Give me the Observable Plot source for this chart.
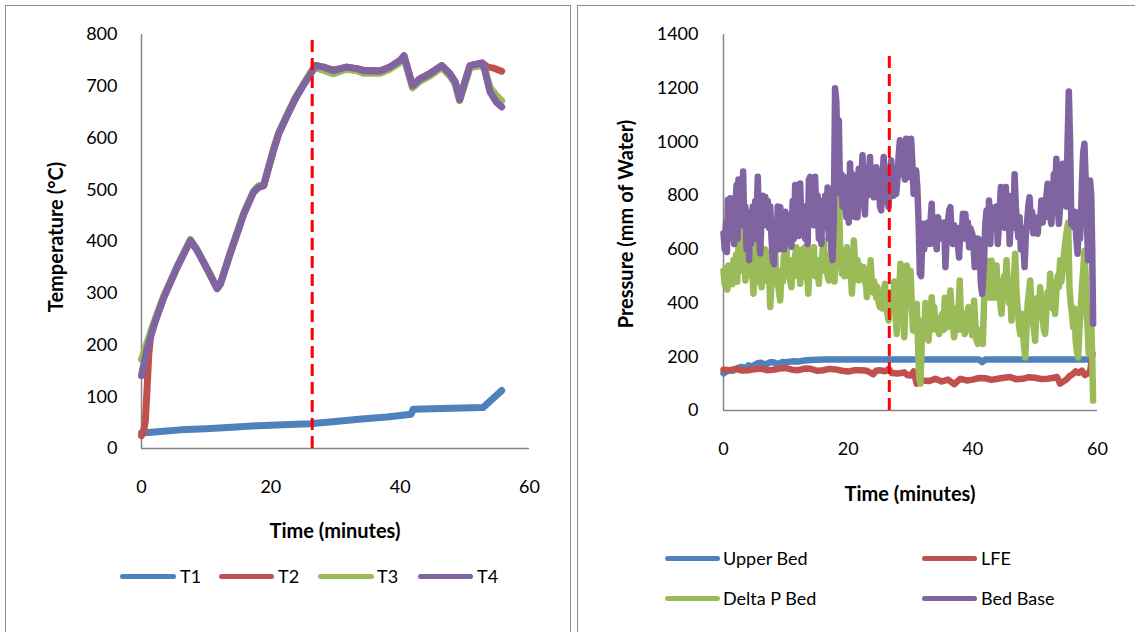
<!DOCTYPE html>
<html>
<head>
<meta charset="utf-8">
<script src="https://cdn.jsdelivr.net/npm/d3@7"></script>
<script src="https://cdn.jsdelivr.net/npm/@observablehq/plot@0.6"></script>
<style>
  html, body { margin: 0; padding: 0; background: #fff; }
  body { width: 1135px; height: 632px; position: relative; overflow: hidden; font-family: Lato, "Open Sans", sans-serif; color: #000; }
  .panel { position: absolute; border: 1.5px solid #8c8c8c; box-sizing: border-box; }
  .chart { position: absolute; top: 0; }
  .txt { position: absolute; font-size: 18px; line-height: 22px; white-space: nowrap; }
  .bold { font-weight: bold; font-size: 20px; }
  .sw { position: absolute; height: 5px; border-radius: 3px; }
</style>
</head>
<body>
<div class="panel" style="left:5px;top:5px;width:566px;height:640px;"></div>
<div class="panel" style="left:577px;top:5px;width:570px;height:640px;"></div>
<div id="left" class="chart" style="left:0px;"></div>
<div id="right" class="chart" style="left:570px;"></div>
<div id="labels"></div>
<script>
// ---------- Tick labels ----------
const timeTicks = [0, 20, 40, 60];
const tempTicks = [0, 100, 200, 300, 400, 500, 600, 700, 800];
const pressTicks = [0, 200, 400, 600, 800, 1000, 1200, 1400];

// ---------- Temperature chart (time in minutes, °C) ----------
const T1 = [[0,30],[3,33],[6,36],[10,38],[14,41],[18,44],[22,46],[26,48],[30,52],[34,57],[38,61],[41.7,66],[42,76],[45,77],[48,78],[52.8,79],[55.7,112]];
const T2 = [[0,25],[0.3,32],[0.6,54],[0.87,118],[1.13,183],[1.5,228],[2.16,247],[3.45,292],[5.5,350],[7.56,402],[8.6,383],[10.4,341],[11.7,309],[12.2,318],[13.7,376],[15.8,453],[17.3,495],[18.1,505],[18.9,508],[19.4,531],[20.4,576],[21.2,608],[22.5,643],[23.8,677],[25.0,703],[26.3,729],[26.9,740],[28.1,737],[29.7,731],[31.7,737],[33.3,734],[34.3,731],[36.9,730],[38.4,737],[40.0,750],[40.6,758],[41.9,702],[43.1,715],[44.6,725],[46.4,740],[47.7,724],[48.5,709],[49.2,676],[50.0,708],[50.8,740],[52.7,745],[53.5,737],[54.5,735],[55.7,729]];
const T3 = [[0,172],[0.87,205],[2.16,252],[3.45,295],[5.5,352],[7.56,404],[8.6,384],[10.4,342],[11.7,310],[12.2,319],[13.7,378],[15.8,455],[17.3,497],[18.1,508],[18.9,510],[19.4,533],[20.4,578],[21.2,610],[22.5,645],[23.8,678],[25.0,703],[26.3,728],[26.9,736],[28.1,731],[29.7,724],[31.7,733],[33.3,730],[34.3,725],[36.9,725],[38.4,733],[40.0,746],[40.6,754],[41.9,697],[43.1,710],[44.6,720],[46.4,736],[47.7,720],[48.5,704],[49.2,672],[50.0,704],[50.8,736],[52.7,740],[53.1,732],[53.9,698],[54.9,682],[55.7,672]];
const T4 = [[0,141],[0.87,193],[2.16,247],[3.45,292],[5.5,350],[7.56,402],[8.6,383],[10.4,341],[11.7,309],[12.2,318],[13.7,376],[15.8,453],[17.3,495],[18.1,505],[18.9,508],[19.4,531],[20.4,576],[21.2,608],[22.5,643],[23.8,676],[25.0,701],[26.3,727],[26.9,740],[28.1,737],[29.7,730],[31.7,737],[33.3,734],[34.3,730],[36.9,729],[38.4,737],[40.0,750],[40.6,759],[41.9,701],[43.1,714],[44.6,724],[46.4,740],[47.7,724],[48.5,708],[49.2,674],[50.0,708],[50.8,740],[52.7,745],[53.1,730],[53.9,689],[54.9,669],[55.7,660]];
const tempNames = ["T1", "T2", "T3", "T4"];
const tempMarker = [26.4];

// ---------- Pressure chart (time in minutes, mm of water) ----------
const upperBed = [[0,138],[0.5,145],[1,150],[1.5,148],[2,155],[2.5,160],[3,162],[3.5,158],[4,168],[4.5,164],[5,170],[5.5,176],[6,178],[6.5,172],[7,174],[7.5,180],[8,180],[8.5,174],[9,176],[9.5,181],[10,180],[11,183],[12,182],[13,186],[14,188],[16,190],[20,190],[25,190],[30,190],[35,190],[40,190],[41,190],[41.5,180],[42,190],[45,190],[50,190],[55,190],[58.8,190]];
const lfe = [[0,152],[1,150],[2,155],[3,149],[4,150],[5,154],[6,156],[7,150],[8,152],[9,156],[10,158],[11,152],[12,150],[13,156],[14,155],[15,148],[16,150],[17,155],[18,153],[19,148],[20,145],[21,150],[22,150],[23,148],[24,135],[24.5,148],[25,150],[26,146],[26.5,155],[27,140],[28,138],[29,142],[29.5,132],[30,130],[30.5,145],[31,100],[31.5,116],[32,112],[33,110],[34,118],[35,108],[36,115],[37,98],[38,118],[39,112],[40,115],[41,121],[42,120],[43,114],[44,118],[45,122],[46,125],[47,116],[48,118],[49,124],[50,122],[51,117],[52,118],[53,122],[53.5,125],[54,100],[55,115],[55.5,128],[56,135],[56.5,146],[57,140],[57.5,148],[58,132],[58.8,143],[59.2,211]];
const deltaPBed = [[0,520],[0.2,470],[0.4,530],[0.6,450],[0.8,540],[1.0,480],[1.2,520],[1.4,470],[1.6,560],[1.8,500],[2.0,580],[2.2,480],[2.4,620],[2.6,560],[2.7,695],[2.9,600],[3.1,520],[3.3,640],[3.5,484],[3.7,560],[3.9,500],[4.0,645],[4.2,560],[4.4,500],[4.6,540],[4.8,435],[5.0,520],[5.2,600],[5.4,480],[5.6,658],[5.8,540],[6.0,600],[6.1,459],[6.3,560],[6.5,500],[6.7,600],[6.9,584],[7.1,480],[7.3,520],[7.5,385],[7.7,470],[7.9,540],[8.1,500],[8.3,584],[8.5,470],[8.7,520],[8.9,440],[9.1,410],[9.3,520],[9.5,480],[9.7,580],[9.9,520],[10.1,608],[10.3,500],[10.5,540],[10.7,480],[10.9,459],[11.1,560],[11.3,500],[11.5,580],[11.7,608],[11.9,520],[12.1,560],[12.3,472],[12.5,540],[12.7,600],[12.9,520],[13.1,608],[13.3,500],[13.5,480],[13.6,435],[13.8,540],[14.0,600],[14.2,520],[14.4,560],[14.5,608],[14.7,500],[14.9,560],[15.1,520],[15.3,472],[15.5,560],[15.7,520],[15.9,600],[16.1,633],[16.3,520],[16.5,560],[16.7,500],[16.9,484],[17.1,580],[17.3,520],[17.4,670],[17.6,560],[17.8,480],[17.9,546],[18.1,640],[18.3,700],[18.5,807],[18.7,620],[18.8,560],[19.0,509],[19.2,560],[19.4,500],[19.6,560],[19.8,608],[20.0,540],[20.2,500],[20.4,520],[20.6,435],[20.8,520],[20.9,633],[21.1,560],[21.3,520],[21.5,560],[21.7,484],[21.9,540],[22.1,500],[22.3,520],[22.5,534],[22.7,480],[22.9,460],[23.0,422],[23.2,500],[23.4,460],[23.6,559],[23.8,480],[24.0,440],[24.2,480],[24.3,459],[24.5,420],[24.7,460],[24.9,400],[25.1,385],[25.3,420],[25.5,380],[25.7,440],[25.9,472],[26.1,400],[26.3,360],[26.5,335],[26.7,400],[26.9,440],[27.0,422],[27.2,380],[27.4,480],[27.6,360],[27.8,285],[28.0,380],[28.2,460],[28.4,546],[28.6,440],[28.8,380],[29.0,273],[29.2,400],[29.4,540],[29.6,480],[29.8,509],[30.0,520],[30.2,400],[30.4,298],[30.6,360],[30.8,310],[31.0,397],[31.2,250],[31.4,120],[31.6,100],[31.8,250],[32.0,335],[32.2,280],[32.4,400],[32.6,300],[32.9,260],[33.1,340],[33.3,300],[33.4,422],[33.6,340],[33.8,385],[34.0,320],[34.2,300],[34.4,340],[34.6,285],[34.8,340],[35.1,360],[35.3,300],[35.5,420],[35.7,340],[35.9,310],[36.1,360],[36.4,447],[36.6,380],[36.8,320],[37.0,273],[37.2,340],[37.4,380],[37.6,300],[37.9,484],[38.1,340],[38.3,300],[38.5,360],[38.7,285],[38.9,330],[39.1,360],[39.3,385],[39.5,300],[39.7,340],[39.9,280],[40.2,409],[40.4,320],[40.6,260],[40.8,248],[41.0,300],[41.2,260],[41.4,300],[41.6,248],[41.8,400],[42.2,558],[42.4,440],[42.6,500],[42.8,420],[43.0,558],[43.2,460],[43.4,420],[43.6,480],[43.8,540],[44.0,420],[44.2,480],[44.4,400],[44.6,360],[44.8,440],[45.0,500],[45.2,460],[45.4,559],[45.6,460],[45.8,400],[46.0,440],[46.2,335],[46.4,420],[46.6,500],[46.8,584],[47.0,440],[47.2,380],[47.4,320],[47.6,285],[47.8,360],[48.0,300],[48.2,240],[48.4,198],[48.6,300],[48.8,400],[49.0,440],[49.2,484],[49.4,400],[49.6,340],[49.8,300],[50.0,260],[50.2,380],[50.4,420],[50.6,360],[50.8,459],[51.0,400],[51.2,340],[51.4,300],[51.6,285],[51.8,380],[52.0,440],[52.2,400],[52.4,509],[52.6,420],[52.8,380],[53.0,400],[53.2,360],[53.4,440],[53.6,500],[53.8,460],[54.0,559],[54.2,480],[54.4,520],[54.6,580],[54.8,620],[55.0,658],[55.3,700],[55.5,459],[55.7,400],[55.9,360],[56.1,310],[56.3,380],[56.5,260],[56.7,220],[56.9,198],[57.1,300],[57.3,380],[57.5,459],[57.7,520],[57.9,595],[58.1,500],[58.3,360],[58.6,211],[58.8,260],[59.0,335],[59.15,200],[59.3,37]];
const bedBase = [[0,660],[0.2,600],[0.4,700],[0.55,590],[0.7,785],[0.9,700],[1.1,790],[1.3,640],[1.5,780],[1.7,620],[1.9,760],[2.1,840],[2.25,640],[2.4,860],[2.6,700],[2.8,850],[3.0,690],[3.15,890],[3.3,720],[3.5,760],[3.7,600],[3.9,740],[4.1,560],[4.3,700],[4.5,620],[4.7,760],[4.9,640],[5.1,780],[5.3,700],[5.5,870],[5.7,650],[5.9,585],[6.1,720],[6.3,800],[6.5,690],[6.7,795],[6.9,700],[7.1,780],[7.3,680],[7.5,760],[7.7,640],[7.9,560],[8.1,545],[8.3,700],[8.5,620],[8.7,760],[8.9,600],[9.1,757],[9.3,650],[9.5,700],[9.7,600],[9.9,740],[10.1,640],[10.3,730],[10.5,620],[10.7,690],[10.9,610],[11.1,780],[11.3,640],[11.5,840],[11.7,660],[11.9,800],[12.1,650],[12.3,845],[12.5,700],[12.7,670],[12.9,760],[13.1,640],[13.3,700],[13.5,620],[13.7,860],[13.9,870],[14.1,700],[14.3,760],[14.5,690],[14.7,870],[14.9,720],[15.1,800],[15.3,640],[15.5,760],[15.7,620],[15.9,780],[16.1,680],[16.3,800],[16.5,700],[16.7,830],[16.9,640],[17.1,720],[17.3,600],[17.5,560],[17.7,720],[17.9,1200],[18.1,1150],[18.3,950],[18.5,1080],[18.7,807],[18.9,880],[19.1,760],[19.3,870],[19.5,760],[19.7,720],[19.9,820],[20.1,700],[20.3,920],[20.5,800],[20.7,880],[20.9,790],[21.1,720],[21.3,850],[21.5,720],[21.7,900],[21.9,800],[22.1,860],[22.3,950],[22.5,780],[22.7,730],[22.9,900],[23.1,800],[23.3,870],[23.5,944],[23.7,820],[23.9,880],[24.1,794],[24.3,850],[24.5,906],[24.7,800],[24.9,850],[25.1,760],[25.3,745],[25.5,880],[25.7,944],[25.9,820],[26.1,860],[26.3,780],[26.5,757],[26.7,880],[26.9,931],[27.1,860],[27.3,800],[27.5,900],[27.7,807],[27.9,860],[28.1,950],[28.3,1006],[28.5,880],[28.7,960],[28.9,931],[29.1,860],[29.3,1012],[29.5,900],[29.7,869],[29.9,960],[30.1,1012],[30.3,920],[30.5,807],[30.7,880],[30.9,894],[31.1,830],[31.3,700],[31.5,510],[31.7,500],[31.9,640],[32.0,695],[32.2,600],[32.4,660],[32.6,645],[32.8,700],[33.0,620],[33.2,700],[33.4,770],[33.6,640],[33.8,620],[34.0,680],[34.2,600],[34.4,720],[34.6,695],[34.8,640],[35.0,690],[35.2,645],[35.4,700],[35.6,534],[35.8,640],[36.0,700],[36.2,745],[36.4,757],[36.6,640],[36.8,620],[37.0,690],[37.3,670],[37.5,640],[37.8,570],[38.0,680],[38.2,640],[38.4,733],[38.6,640],[38.8,732],[39.0,650],[39.2,700],[39.4,608],[39.6,680],[39.9,658],[40.1,620],[40.3,534],[40.5,640],[40.7,600],[40.9,640],[41.1,584],[41.3,470],[41.5,434],[41.8,560],[42.0,695],[42.2,745],[42.4,650],[42.6,782],[42.8,620],[43.0,757],[43.2,680],[43.4,740],[43.6,700],[43.8,760],[44.0,620],[44.2,700],[44.5,832],[44.7,700],[44.9,740],[45.1,680],[45.3,832],[45.5,700],[45.7,800],[45.9,620],[46.1,700],[46.3,760],[46.5,680],[46.7,880],[46.9,760],[47.1,700],[47.3,645],[47.5,720],[47.7,600],[47.9,680],[48.1,620],[48.3,534],[48.5,650],[48.7,700],[48.9,760],[49.1,794],[49.3,700],[49.5,740],[49.7,660],[49.9,720],[50.1,680],[50.4,658],[50.6,720],[50.8,700],[51.0,782],[51.2,700],[51.4,760],[51.6,720],[51.8,800],[52.0,844],[52.2,760],[52.4,720],[52.6,695],[52.8,780],[53.0,880],[53.2,800],[53.4,937],[53.6,800],[53.8,695],[54.0,760],[54.2,860],[54.4,919],[54.6,800],[54.8,820],[55.0,760],[55.2,1000],[55.4,1188],[55.6,1000],[55.8,695],[56.0,720],[56.2,683],[56.4,740],[56.6,640],[56.8,584],[57.0,700],[57.2,640],[57.4,760],[57.5,844],[57.7,960],[57.9,993],[58.1,860],[58.3,695],[58.5,560],[58.7,780],[58.8,856],[59.0,800],[59.15,600],[59.3,323]];
const pressNames = ["Upper Bed", "LFE", "Delta P Bed", "Bed Base"];
const pressMarker = [26.6];

const colors = ["#4F81BD", "#C0504D", "#9BBB59", "#8064A2"];

// ---------- build tables ----------
function table(seriesList, names) {
  const rows = [];
  seriesList.forEach((s, i) => s.forEach(([t, v]) => rows.push({series: names[i], t, v})));
  return rows;
}
const tempRows = table([T1, T2, T3, T4], tempNames);
const pressRows = table([upperBed, lfe, deltaPBed, bedBase], pressNames);

const axisGray = "#868686";
const font = "Lato, 'Open Sans', sans-serif";

function makeChart({rows, names, marker, yMax, yTicks, markerTop, width, marginLeft, marginRight, marginTop, marginBottom, xPad, yPad, sw}) {
  return Plot.plot({
    width, height: 632,
    marginLeft, marginRight, marginTop, marginBottom,
    style: {fontFamily: font, fontSize: "18px", color: "#000", background: "transparent", overflow: "visible"},
    x: {domain: [0, 60]},
    y: {domain: [0, yMax]},
    color: {domain: names, range: colors},
    marks: [
      Plot.axisY({ticks: yTicks, tickSize: 0, tickPadding: yPad, label: null, fontSize: 18, tickFormat: d => String(d)}),
      Plot.axisX({ticks: timeTicks, tickSize: 0, tickPadding: xPad, label: null, fontSize: 18, tickFormat: d => String(d)}),
      Plot.ruleX([0], {stroke: axisGray, strokeWidth: 1.5}),
      Plot.ruleY([0], {stroke: axisGray, strokeWidth: 1.5}),
      Plot.line(rows, {x: "t", y: "v", z: "series", stroke: "series", strokeWidth: sw, strokeLinejoin: "round", strokeLinecap: "round"}),
      Plot.ruleX(marker, {y1: 0, y2: markerTop, stroke: "#FF0000", strokeWidth: 3, strokeDasharray: "12,6"})
    ]
  });
}

document.getElementById("left").append(makeChart({
  rows: tempRows, names: tempNames, marker: tempMarker, yMax: 800, yTicks: tempTicks, markerTop: 792,
  width: 570, marginLeft: 141, marginRight: 41, marginTop: 34, marginBottom: 184, xPad: 32, yPad: 24, sw: 7
}));
document.getElementById("right").append(makeChart({
  rows: pressRows, names: pressNames, marker: pressMarker, yMax: 1400, yTicks: pressTicks, markerTop: 1330,
  width: 565, marginLeft: 153, marginRight: 38, marginTop: 34, marginBottom: 222, xPad: 32, yPad: 25, sw: 6.5
}));

// ---------- axis titles and legends (HTML text) ----------
const lab = document.getElementById("labels");
function addText(text, x, y, opts = {}) {
  const d = document.createElement("div");
  d.className = "txt" + (opts.bold ? " bold" : "");
  d.textContent = text;
  lab.append(d);
  const w = d.offsetWidth, h = d.offsetHeight;
  if (opts.center) {
    d.style.left = (x - w / 2) + "px";
    d.style.top = (y - h / 2) + "px";
    if (opts.rotate) d.style.transform = "rotate(-90deg)";
  } else {
    d.style.left = x + "px";
    d.style.top = (y - h / 2) + "px";
  }
  return d;
}
function addSwatch(x1, x2, y, color) {
  const s = document.createElement("div");
  s.className = "sw";
  s.style.left = x1 + "px";
  s.style.width = (x2 - x1) + "px";
  s.style.top = (y - 2.5) + "px";
  s.style.background = color;
  lab.append(s);
}
addText("Time (minutes)", 335, 530, {bold: true, center: true});
addText("Time (minutes)", 910, 493, {bold: true, center: true});
addText("Temperature (°C)", 55, 237, {bold: true, center: true, rotate: true});
addText("Pressure (mm of Water)", 625, 224, {bold: true, center: true, rotate: true});

const tempLegend = [[120, 176, 180], [219, 274, 278], [318, 374, 377], [418, 473, 477]];
tempNames.forEach((n, i) => { const [a, b, tx] = tempLegend[i]; addSwatch(a, b, 576, colors[i]); addText(n, tx, 576); });
const pressLegend = [[665, 720, 723, 558], [922, 977, 981, 558], [665, 720, 723, 598], [922, 977, 981, 598]];
pressNames.forEach((n, i) => { const [a, b, tx, y] = pressLegend[i]; addSwatch(a, b, y, colors[i]); addText(n, tx, y); });
</script>
</body>
</html>
